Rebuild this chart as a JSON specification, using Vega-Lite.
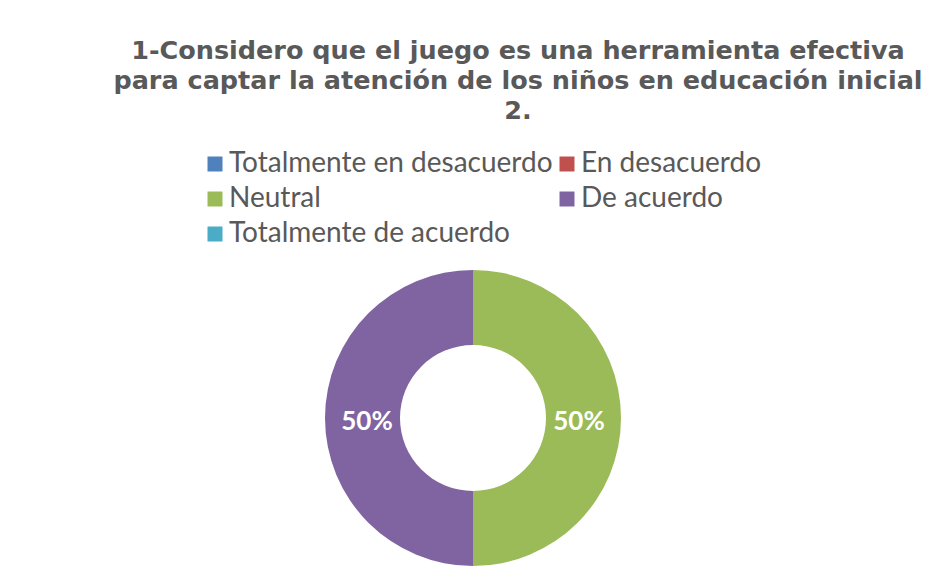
{
  "$schema": "https://vega.github.io/schema/vega-lite/v6.json",
  "autosize": "none",
  "width": 928,
  "height": 316,
  "padding": {"left": 9, "top": 260, "right": 0, "bottom": 0},
  "background": "white",
  "title": {
    "text": ["1-Considero que el juego es una herramienta efectiva", "para captar la atención de los niños en educación inicial", "2."],
    "anchor": "middle",
    "frame": "group",
    "dx": 45,
    "offset": 26,
    "font": "DejaVu Sans",
    "fontSize": 25.5,
    "fontWeight": "bold",
    "color": "#595959",
    "lineHeight": 30
  },
  "data": {
    "values": [
      {"categoria": "Totalmente en desacuerdo", "valor": 0, "orden": 1},
      {"categoria": "En desacuerdo", "valor": 0, "orden": 2},
      {"categoria": "Neutral", "valor": 0.5, "orden": 3},
      {"categoria": "De acuerdo", "valor": 0.5, "orden": 4},
      {"categoria": "Totalmente de acuerdo", "valor": 0, "orden": 5}
    ]
  },
  "encoding": {
    "theta": {"field": "valor", "type": "quantitative", "stack": true},
    "order": {"field": "orden", "type": "quantitative"},
    "color": {
      "field": "categoria",
      "type": "nominal",
      "scale": {
        "domain": ["Totalmente en desacuerdo", "Neutral", "Totalmente de acuerdo", "En desacuerdo", "De acuerdo"],
        "range": ["#4F81BD", "#9BBB59", "#4BACC6", "#C0504D", "#8064A2"]
      },
      "legend": {
        "orient": "none",
        "legendX": 192,
        "legendY": -110,
        "columns": 2,
        "title": null,
        "symbolType": "square",
        "symbolSize": 225,
        "symbolStrokeWidth": 0,
        "labelFont": "Lato",
        "labelFontSize": 28,
        "labelColor": "#595959",
        "labelLimit": 0,
        "labelOffset": 0,
        "rowPadding": 7,
        "columnPadding": -29
      }
    }
  },
  "layer": [
    {"mark": {"type": "arc", "outerRadius": 148, "innerRadius": 73}},
    {
      "transform": [{"filter": "datum.valor > 0"}],
      "mark": {"type": "text", "radius": 106, "dy": 4, "font": "Lato", "fontSize": 26, "fontWeight": "bold"},
      "encoding": {
        "text": {"field": "valor", "type": "quantitative", "format": ".0%"},
        "color": {"value": "white"}
      }
    }
  ]
}
